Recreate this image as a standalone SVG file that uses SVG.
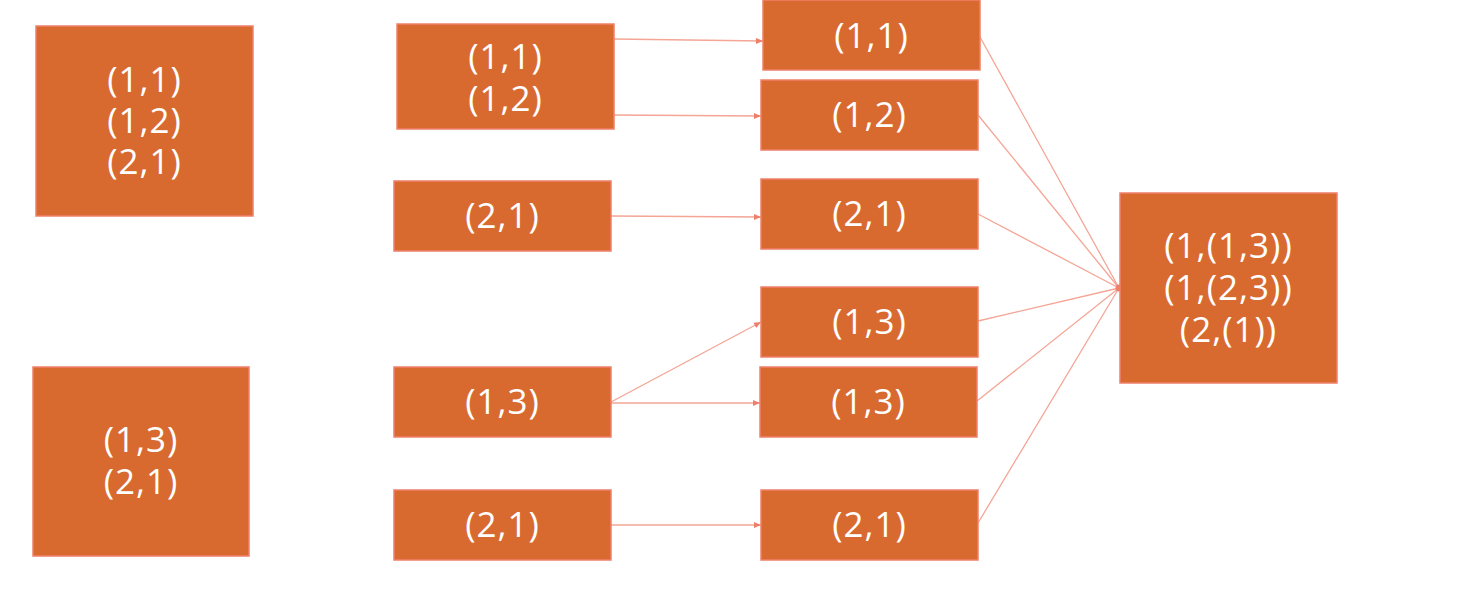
<svg xmlns="http://www.w3.org/2000/svg" width="1460" height="598" viewBox="0 0 1460 598">
<style>
.n rect{fill:#D86A30;stroke:#F0806A;stroke-width:1.5}
.n text{fill:#fff;font-family:"Open Sans","Noto Sans",sans-serif;font-size:35px;text-anchor:middle;letter-spacing:1px}
.c line{stroke:#F4A595;stroke-width:1.3;fill:none}
</style>
<defs>
<marker id="ah" markerWidth="8" markerHeight="8" refX="7" refY="4" orient="auto" markerUnits="userSpaceOnUse">
<path d="M0,1 L7,4 L0,7 Z" fill="#EE7F6A"/>
</marker>
</defs>
<rect width="1460" height="598" fill="#fff"/>
<g id="connectors" class="c">
<line x1="614" y1="39" x2="763" y2="41" marker-end="url(#ah)"/>
<line x1="614" y1="115" x2="761" y2="116" marker-end="url(#ah)"/>
<line x1="611" y1="216" x2="761" y2="217" marker-end="url(#ah)"/>
<line x1="611" y1="402" x2="761" y2="322" marker-end="url(#ah)"/>
<line x1="611" y1="403" x2="760" y2="403" marker-end="url(#ah)"/>
<line x1="611" y1="525" x2="761" y2="525" marker-end="url(#ah)"/>
<line x1="980" y1="37" x2="1119" y2="288"/>
<line x1="978" y1="115" x2="1119" y2="288"/>
<line x1="978" y1="214" x2="1119" y2="288"/>
<line x1="978" y1="321" x2="1119" y2="288"/>
<line x1="977" y1="401" x2="1119" y2="288"/>
<line x1="978" y1="523" x2="1119" y2="288"/>
<circle cx="1119" cy="288" r="3.5" fill="#EE7F6A"/>
</g>
<g id="nA" class="n"><rect x="36" y="26" width="217" height="190"/><text x="144.5" y="92">(1,1)<tspan x="144.5" dy="41">(1,2)</tspan><tspan x="144.5" dy="41">(2,1)</tspan></text></g>
<g id="nB" class="n"><rect x="33" y="367" width="216" height="189"/><text x="141" y="452">(1,3)<tspan x="141" dy="42">(2,1)</tspan></text></g>
<g id="nC1" class="n"><rect x="397" y="24" width="217" height="105"/><text x="505.5" y="69">(1,1)<tspan x="505.5" dy="42">(1,2)</tspan></text></g>
<g id="nC2" class="n"><rect x="394" y="181" width="217" height="70"/><text x="502.5" y="228">(2,1)</text></g>
<g id="nC3" class="n"><rect x="394" y="367" width="217" height="70"/><text x="502.5" y="414">(1,3)</text></g>
<g id="nC4" class="n"><rect x="394" y="490" width="217" height="70"/><text x="502.5" y="537">(2,1)</text></g>
<g id="nD1" class="n"><rect x="763" y="0" width="217" height="70"/><text x="871.5" y="48">(1,1)</text></g>
<g id="nD2" class="n"><rect x="761" y="80" width="217" height="70"/><text x="869.5" y="127">(1,2)</text></g>
<g id="nD3" class="n"><rect x="761" y="179" width="217" height="70"/><text x="869.5" y="226">(2,1)</text></g>
<g id="nD4" class="n"><rect x="761" y="287" width="217" height="70"/><text x="869.5" y="334">(1,3)</text></g>
<g id="nD5" class="n"><rect x="760" y="367" width="217" height="70"/><text x="868.5" y="414">(1,3)</text></g>
<g id="nD6" class="n"><rect x="761" y="490" width="217" height="70"/><text x="869.5" y="537">(2,1)</text></g>
<g id="nE" class="n"><rect x="1120" y="193" width="217" height="190"/><text x="1228.5" y="258">(1,(1,3))<tspan x="1228.5" dy="42">(1,(2,3))</tspan><tspan x="1228.5" dy="42">(2,(1))</tspan></text></g>
</svg>
